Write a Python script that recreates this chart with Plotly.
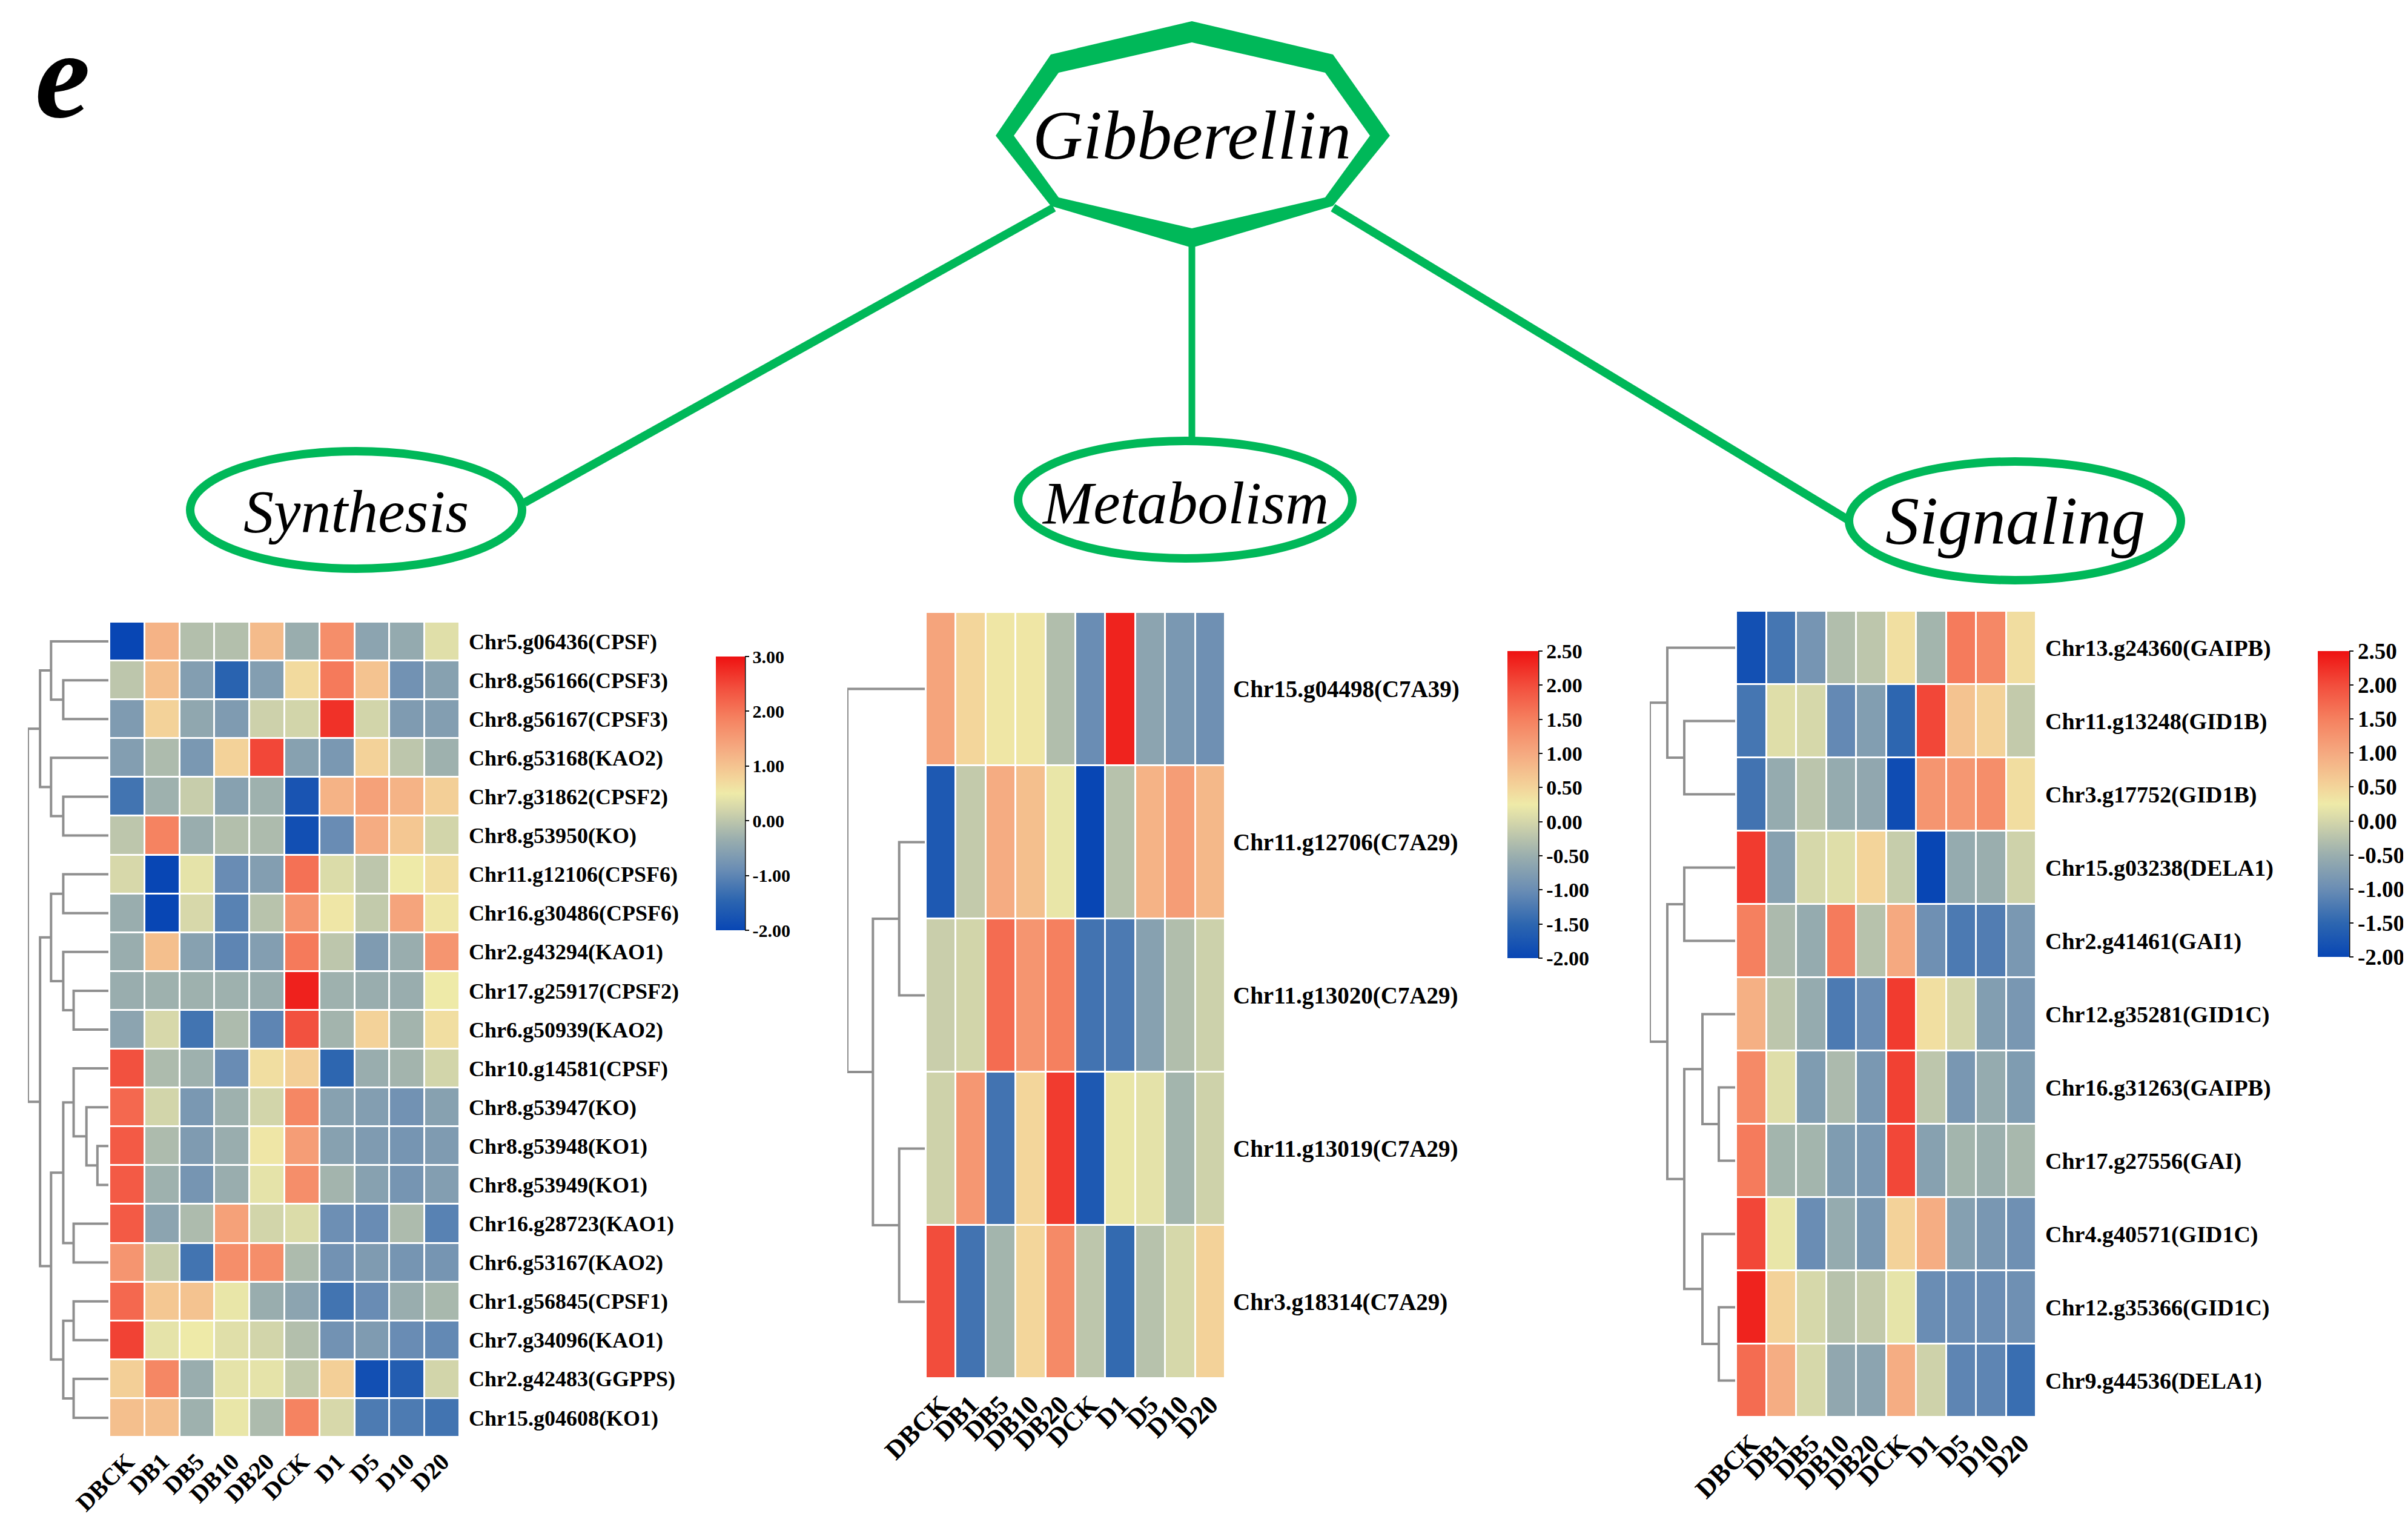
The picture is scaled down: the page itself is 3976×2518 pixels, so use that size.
import plotly.graph_objects as go

W, H = 3976, 2518

samples = ["DBCK", "DB1", "DB5", "DB10", "DB20", "DCK", "D1", "D5", "D10", "D20"]

syn_genes = ["Chr5.g06436(CPSF)", "Chr8.g56166(CPSF3)", "Chr8.g56167(CPSF3)", "Chr6.g53168(KAO2)",
             "Chr7.g31862(CPSF2)", "Chr8.g53950(KO)", "Chr11.g12106(CPSF6)", "Chr16.g30486(CPSF6)",
             "Chr2.g43294(KAO1)", "Chr17.g25917(CPSF2)", "Chr6.g50939(KAO2)", "Chr10.g14581(CPSF)",
             "Chr8.g53947(KO)", "Chr8.g53948(KO1)", "Chr8.g53949(KO1)", "Chr16.g28723(KAO1)",
             "Chr6.g53167(KAO2)", "Chr1.g56845(CPSF1)", "Chr7.g34096(KAO1)", "Chr2.g42483(GGPPS)",
             "Chr15.g04608(KO1)"]
syn_values = [
    [-2.0, 1.2, -0.1, -0.1, 1.1, -0.35, 1.7, -0.5, -0.4, 0.35],
    [0.0, 1.05, -0.6, -1.5, -0.6, 0.7, 1.95, 1.0, -0.8, -0.55],
    [-0.65, 0.8, -0.45, -0.65, 0.15, 0.2, 2.7, 0.2, -0.65, -0.6],
    [-0.6, -0.15, -0.7, 0.8, 2.5, -0.55, -0.7, 0.8, 0.0, -0.3],
    [-1.25, -0.3, 0.1, -0.55, -0.3, -1.75, 1.2, 1.45, 1.2, 0.85],
    [0.0, 1.85, -0.35, -0.1, -0.15, -1.85, -0.9, 1.3, 0.95, 0.2],
    [0.25, -2.0, 0.4, -0.9, -0.6, 2.05, 0.3, 0.0, 0.5, 0.65],
    [-0.35, -2.0, 0.25, -1.05, -0.05, 1.6, 0.55, 0.05, 1.4, 0.55],
    [-0.35, 1.05, -0.55, -1.0, -0.6, 1.95, 0.0, -0.65, -0.35, 1.6],
    [-0.35, -0.3, -0.3, -0.3, -0.35, 2.85, -0.3, -0.35, -0.35, 0.5],
    [-0.5, 0.25, -1.25, -0.15, -1.0, 2.4, -0.25, 0.8, -0.25, 0.65],
    [2.4, -0.15, -0.3, -0.9, 0.65, 0.85, -1.45, -0.35, -0.25, 0.2],
    [2.15, 0.2, -0.7, -0.3, 0.2, 1.8, -0.55, -0.6, -0.8, -0.55],
    [2.3, -0.15, -0.65, -0.35, 0.55, 1.5, -0.55, -0.65, -0.75, -0.65],
    [2.3, -0.3, -0.75, -0.35, 0.4, 1.7, -0.25, -0.55, -0.75, -0.6],
    [2.3, -0.5, -0.15, 1.45, 0.2, 0.3, -0.85, -0.9, -0.15, -1.05],
    [1.6, 0.1, -1.25, 1.7, 1.7, -0.15, -0.8, -0.65, -0.75, -0.75],
    [2.15, 0.95, 1.0, 0.45, -0.35, -0.5, -1.25, -0.9, -0.35, -0.2],
    [2.55, 0.4, 0.5, 0.35, 0.2, -0.1, -0.8, -0.65, -0.9, -0.95],
    [0.85, 1.8, -0.35, 0.4, 0.4, 0.05, 0.85, -1.85, -1.6, 0.2],
    [1.05, 1.05, -0.3, 0.45, -0.15, 1.85, 0.25, -1.15, -1.15, -1.25],
]
syn_merges = [
    (1, 2, 3.7), (0, "m0", 4.7), (4, 5, 3.7), (3, "m2", 4.7), ("m1", "m3", 5.6),
    (6, 7, 3.7), (9, 10, 2.85), (8, "m6", 3.7), ("m5", "m7", 4.7),
    (13, 14, 0.9), (12, "m9", 1.8), (11, "m10", 2.85), (15, 16, 2.85), ("m11", "m12", 3.7),
    (17, 18, 2.85), (19, 20, 2.85), ("m14", "m15", 3.7), ("m13", "m16", 4.7),
    ("m8", "m17", 5.6), ("m4", "m18", 6.6),
]
syn_ticks = [-2, -1, 0, 1, 2, 3]

met_genes = ["Chr15.g04498(C7A39)", "Chr11.g12706(C7A29)", "Chr11.g13020(C7A29)",
             "Chr11.g13019(C7A29)", "Chr3.g18314(C7A29)"]
met_values = [
    [1.06, 0.48, 0.3, 0.3, -0.3, -1.0, 2.35, -0.65, -0.83, -0.95],
    [-1.7, -0.15, 0.97, 0.75, 0.2, -2.0, -0.25, 0.88, 1.15, 0.83],
    [-0.1, -0.02, 1.7, 1.25, 1.5, -1.33, -1.25, -0.7, -0.3, -0.07],
    [-0.05, 1.22, -1.33, 0.48, 2.15, -1.7, 0.2, 0.15, -0.42, -0.05],
    [2.0, -1.33, -0.42, 0.48, 1.38, -0.2, -1.45, -0.25, 0.02, 0.52],
]
met_merges = [(1, 2, 2.1), (3, 4, 2.1), ("m0", "m1", 4.25), (0, "m2", 6.35)]
met_ticks = [-2, -1.5, -1, -0.5, 0, 0.5, 1, 1.5, 2, 2.5]

sig_genes = ["Chr13.g24360(GAIPB)", "Chr11.g13248(GID1B)", "Chr3.g17752(GID1B)",
             "Chr15.g03238(DELA1)", "Chr2.g41461(GAI1)", "Chr12.g35281(GID1C)",
             "Chr16.g31263(GAIPB)", "Chr17.g27556(GAI)", "Chr4.g40571(GID1C)",
             "Chr12.g35366(GID1C)", "Chr9.g44536(DELA1)"]
sig_values = [
    [-1.85, -1.3, -0.88, -0.3, -0.2, 0.38, -0.42, 1.55, 1.4, 0.4],
    [-1.3, 0.1, 0.02, -1.05, -0.75, -1.5, 2.05, 0.7, 0.52, -0.15],
    [-1.33, -0.55, -0.22, -0.55, -0.6, -1.9, 1.25, 1.22, 1.33, 0.4],
    [2.15, -0.7, 0.02, 0.1, 0.5, -0.12, -2.0, -0.55, -0.5, -0.05],
    [1.5, -0.35, -0.55, 1.55, -0.25, 1.0, -0.95, -1.25, -1.2, -0.83],
    [0.92, -0.2, -0.55, -1.25, -1.0, 2.15, 0.38, 0.0, -0.75, -0.85],
    [1.38, 0.1, -0.78, -0.35, -0.83, 2.1, -0.2, -0.85, -0.55, -0.78],
    [1.55, -0.42, -0.42, -0.78, -0.83, 2.05, -0.7, -0.42, -0.48, -0.38],
    [2.05, 0.2, -1.0, -0.55, -0.83, 0.52, 0.95, -0.72, -0.85, -0.95],
    [2.35, 0.52, 0.02, -0.25, -0.15, 0.17, -1.0, -1.0, -0.98, -0.95],
    [1.7, 0.95, 0.02, -0.6, -0.65, 0.95, -0.05, -1.1, -1.1, -1.4],
]
sig_merges = [
    (1, 2, 4.2), (0, "m0", 5.6), (3, 4, 4.2), (6, 7, 1.35), (5, "m3", 2.7),
    (9, 10, 1.35), (8, "m5", 2.7), ("m4", "m6", 4.2), ("m2", "m7", 5.6), ("m1", "m8", 7.05),
]
sig_ticks = met_ticks

colorscale = [
    [0.0, "#0846b4"], [0.111, "#2d66b0"], [0.222, "#6a8db4"], [0.333, "#9aaeae"],
    [0.444, "#d4d6aa"], [0.5, "#eeeaa8"], [0.556, "#f3d49a"], [0.667, "#f5a980"],
    [0.778, "#f5805f"], [0.889, "#f24d3c"], [1.0, "#ee1111"],
]

SERIF = "Liberation Serif"
GREEN = "#00b859"


def px(x):
    return x / W


def py(y):
    return 1 - y / H


def dendro_xy(merges):
    pos = {}
    xs, ys = [], []

    def get(c):
        if isinstance(c, int):
            return (0.0, float(c))
        return pos[c]

    for i, (a, b, h) in enumerate(merges):
        ha, ya = get(a)
        hb, yb = get(b)
        xs += [ha, h, h, hb, None]
        ys += [ya, ya, yb, yb, None]
        pos["m%d" % i] = (h, (ya + yb) / 2)
    return xs, ys


panels = [
    dict(genes=syn_genes, z=syn_values, merges=syn_merges, ticks=syn_ticks,
         hx=(173, 751), hy=(1019, 2365), dx=(38, 171), droot=6.6,
         cbx=(1174, 1222), cby=(1076, 1528), lab=36, xlab=40, cbfont=30, stand=14),
    dict(genes=met_genes, z=met_values, merges=met_merges, ticks=met_ticks,
         hx=(1521, 2015), hy=(1003, 2268), dx=(1391, 1519), droot=6.35,
         cbx=(2481, 2532), cby=(1067, 1574), lab=39, xlab=44, cbfont=34, stand=12),
    dict(genes=sig_genes, z=sig_values, merges=sig_merges, ticks=sig_ticks,
         hx=(2859, 3354), hy=(1001, 2332), dx=(2716, 2857), droot=7.05,
         cbx=(3819, 3871), cby=(1067, 1572), lab=38, xlab=44, cbfont=37, stand=14),
]

fig = go.Figure()
layout_axes = {}
shapes = []

for k, p in enumerate(panels):
    n = len(p["genes"])
    hxi, dxi = 2 * k + 1, 2 * k + 2
    hname = "" if hxi == 1 else str(hxi)
    dname = str(dxi)
    zmin, zmax = p["ticks"][0], p["ticks"][-1]
    cb_len = p["cby"][1] - p["cby"][0]
    fig.add_trace(go.Heatmap(
        z=p["z"], x=list(range(len(samples))), y=list(range(n)),
        zmin=zmin, zmax=zmax, colorscale=colorscale, xgap=3, ygap=3,
        xaxis="x" + hname, yaxis="y" + hname, hoverinfo="skip",
        colorbar=dict(
            x=px(p["cbx"][0]), xanchor="left", xpad=0, ypad=0,
            y=py((p["cby"][0] + p["cby"][1]) / 2), yanchor="middle",
            thickness=p["cbx"][1] - p["cbx"][0], len=cb_len, lenmode="pixels",
            outlinewidth=0, tickvals=p["ticks"], ticktext=["%.2f" % v for v in p["ticks"]],
            ticks="outside", ticklen=7, tickwidth=2, tickcolor="#111",
            tickfont=dict(family=SERIF, size=p["cbfont"], color="black", weight="bold"),
        ),
    ))
    shapes.append(dict(type="line", xref="paper", yref="paper",
                       x0=px(p["cbx"][1]), x1=px(p["cbx"][1]),
                       y0=py(p["cby"][0]), y1=py(p["cby"][1]),
                       line=dict(color="#111", width=3)))
    xs, ys = dendro_xy(p["merges"])
    fig.add_trace(go.Scatter(x=xs, y=ys, mode="lines", line=dict(color="#8f8f8f", width=4),
                             xaxis="x" + dname, yaxis="y" + dname, hoverinfo="skip",
                             showlegend=False))
    ydom = [py(p["hy"][1]), py(p["hy"][0])]
    layout_axes["xaxis" + hname] = dict(
        domain=[px(p["hx"][0]), px(p["hx"][1])], anchor="y" + hname, automargin=False,
        range=[-0.5, len(samples) - 0.5], tickvals=list(range(len(samples))), ticktext=samples,
        tickangle=-45, showgrid=False, zeroline=False, showline=False, ticks="",
        ticklabelstandoff=8,
        tickfont=dict(family=SERIF, size=p["xlab"], color="black", weight="bold"),
    )
    layout_axes["yaxis" + hname] = dict(
        domain=ydom, anchor="x" + hname, side="right", automargin=False,
        range=[n - 0.5, -0.5], tickvals=list(range(n)), ticktext=p["genes"],
        showgrid=False, zeroline=False, showline=False, ticks="",
        ticklabelstandoff=p["stand"],
        tickfont=dict(family=SERIF, size=p["lab"], color="black", weight="bold"),
    )
    layout_axes["xaxis" + dname] = dict(
        domain=[px(p["dx"][0]), px(p["dx"][1])], anchor="y" + dname, automargin=False,
        range=[p["droot"], 0], visible=False,
    )
    layout_axes["yaxis" + dname] = dict(
        domain=ydom, anchor="x" + dname, range=[n - 0.5, -0.5], visible=False, automargin=False,
    )

# --- top concept diagram ---
def poly(points):
    return "M " + " L ".join("%f,%f" % (px(x), py(y)) for x, y in points) + " Z"

outer = [(1960, 27), (2193, 82), (2287, 216), (2193, 332), (1960, 401), (1727, 332), (1636, 216), (1727, 82)]
inner = [(1960, 62), (2180, 112), (2254, 216), (2180, 318), (1960, 369), (1740, 318), (1666, 216), (1740, 112)]

for (x0, y0, x1, y1, w) in [(1732, 335, 858, 822, 14), (1960, 399, 1960, 716, 11), (2193, 335, 3043, 850, 14)]:
    shapes.append(dict(type="line", xref="paper", yref="paper", x0=px(x0), y0=py(y0),
                       x1=px(x1), y1=py(y1), line=dict(color=GREEN, width=w)))
shapes.append(dict(type="path", xref="paper", yref="paper", path=poly(outer),
                   fillcolor=GREEN, line=dict(width=0)))
shapes.append(dict(type="path", xref="paper", yref="paper", path=poly(inner),
                   fillcolor="white", line=dict(width=0)))
ellipses = [(580, 834, 274, 97), (1949, 817, 276, 97), (3319, 852, 274, 98)]
for cx, cy, rx, ry in ellipses:
    shapes.append(dict(type="circle", xref="paper", yref="paper",
                       x0=px(cx - rx), x1=px(cx + rx), y0=py(cy + ry), y1=py(cy - ry),
                       fillcolor="white", line=dict(color=GREEN, width=14)))

annotations = [
    dict(text="e", x=px(95), y=py(0), yanchor="top",
         font=dict(family=SERIF, size=205, style="italic", weight="bold", color="black")),
    dict(text="Gibberellin", x=px(1960), y=py(216), font=dict(family=SERIF, size=115, style="italic", color="black")),
    dict(text="Synthesis", x=px(580), y=py(836), font=dict(family=SERIF, size=100, style="italic", color="black")),
    dict(text="Metabolism", x=px(1949), y=py(822), font=dict(family=SERIF, size=100, style="italic", color="black")),
    dict(text="Signaling", x=px(3319), y=py(852), font=dict(family=SERIF, size=112, style="italic", color="black")),
]
for a in annotations:
    a.setdefault("yanchor", "middle")
    a.update(xref="paper", yref="paper", xanchor="center", showarrow=False)

fig.update_layout(
    width=W, height=H, margin=dict(l=0, r=0, t=0, b=0, autoexpand=False),
    paper_bgcolor="white", plot_bgcolor="white", showlegend=False,
    shapes=shapes, annotations=annotations, **layout_axes,
)

fig.write_html("out.html")
